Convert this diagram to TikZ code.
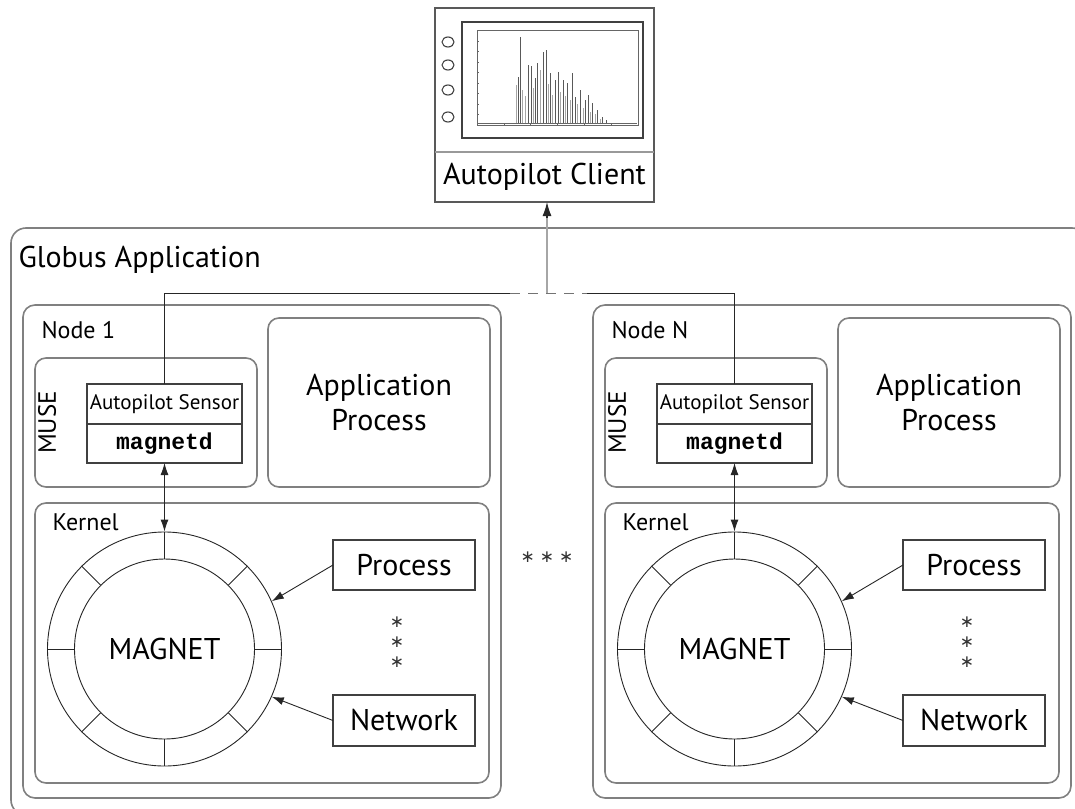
\documentclass[tikz,border=0pt]{standalone}
\usepackage{fontspec}
\setmainfont{PT Sans}
\setmonofont{Liberation Mono}
\newfontfamily\starfont{DejaVu Sans}
\usetikzlibrary{positioning,arrows.meta,calc}

\begin{document}
\begin{tikzpicture}[
    x=1pt, y=-1pt,
    >={Latex[length=12pt,width=8pt]},
    frame/.style={draw=black!50, line width=1.6pt, rounded corners=12pt,
                  inner sep=0pt, outer sep=0pt},
    plainbox/.style={draw=black!75, line width=1.1pt, inner sep=0pt, outer sep=0pt},
    wire/.style={draw=black!85, line width=0.9pt},
    uplink/.style={draw=black!35, line width=2.6pt},
    biglabel/.style={font=\fontsize{30}{35}\selectfont},
    midlabel/.style={font=\fontsize{22}{26}\selectfont},
    smalllabel/.style={font=\fontsize{21}{24}\selectfont},
    codelabel/.style={font=\fontsize{23}{25}\selectfont\ttfamily\bfseries},
    starlabel/.style={font=\fontsize{17}{17}\selectfont\starfont, inner sep=0pt, text=black!80},
]
    \useasboundingbox (0,0) rectangle (1075,808);
    \clip (0,0) rectangle (1075,808);

    % Outer application frame
    \node[frame, rounded corners=15pt, minimum width=1076pt, minimum height=587pt]
        (globus) at (549,521.5) {};
    \node[biglabel, anchor=west] (globus-title) at (15,260) {Globus Application};

    % Client monitor
    \node[plainbox, draw=black!65, line width=1.4pt, minimum width=219pt, minimum height=144pt]
        (screen) at (544.5,80) {};
    \node[plainbox, draw=black!65, line width=1.4pt, minimum width=219pt, minimum height=50pt,
          biglabel] (client) at (544.5,177) {Autopilot Client};
    \draw[black!40, line width=2pt] (screen.south west) -- (screen.south east);
    \draw[black!75, line width=1.5pt] (462,22) rectangle (643,138);
    \draw[black!60, line width=0.5pt] (477,30) rectangle (638,125);
    \foreach \t in {0,1,...,6}
        \draw[black!60, line width=0.4pt] ($(477,125)+(\t*26.8,0)$) -- ++(0,-2);
    \foreach \t in {0,1,...,9}
        \draw[black!60, line width=0.4pt] ($(477,125)+(0,-\t*10.5)$) -- ++(2,0);
    \foreach \px/\py in {518/77, 520/37, 528/65, 531/66, 535/78, 537/63, 543/52, 546/50,
                         550/73, 555/80, 558/72, 563/80, 567/83, 572/73, 575/97, 580/90,
                         585/100, 588/95, 592/103, 597/110, 602/117, 606/120}
        \draw[black!65, line width=1pt] (\px,123) -- (\px,\py);
    \foreach \px/\py in {516/85, 522/90, 525/96, 533/88, 540/70, 548/84, 552/95, 560/92,
                         565/96, 570/100, 577/104, 583/108, 590/112, 595/114, 600/119}
        \draw[black!35, line width=0.9pt] (\px,123) -- (\px,\py);
    \draw[black!60, line width=0.6pt] (478,123) -- (637,123);
    \foreach \by in {42,65,90,117}
        \draw[black!75, line width=1.1pt] (448,\by) ellipse (6pt and 5pt);

    % Two hosts
    \foreach \off/\num/\id in {0/1/a, 570/N/b} {
    \begin{scope}[xshift=\off pt]
        \node[frame, minimum width=478pt, minimum height=493pt] (host-\id) at (262,551.5) {};
        \node[midlabel, font=\fontsize{24}{26}\selectfont, anchor=west] (host-title-\id)
            at (38,330) {Node \num};
        \node[frame, rounded corners=11pt, minimum width=222pt, minimum height=169pt,
              biglabel, align=center] (app-\id) at (379,402.5) {Application\\Process};
        \node[frame, rounded corners=11pt, minimum width=222pt, minimum height=129pt]
            (muse-\id) at (146,422.5) {};
        \node[smalllabel, font=\fontsize{25}{28}\selectfont, rotate=90] (muse-title-\id)
            at (47,422.5) {MUSE};
        \node[plainbox, minimum width=155pt, minimum height=40pt, smalllabel]
            (sensor-\id) at (164.5,404) {Autopilot Sensor};
        \node[plainbox, minimum width=155pt, minimum height=39pt, codelabel,
              below=0pt of sensor-\id] (magnetd-\id) {magnetd};
        \node[frame, rounded corners=11pt, minimum width=454pt, minimum height=280pt]
            (kernel-\id) at (262,643) {};
        \node[midlabel, font=\fontsize{24}{26}\selectfont, anchor=west] (kernel-title-\id)
            at (49,522) {Kernel};
        % MAGNET ring
        \node[circle, draw=black!85, line width=0.9pt, minimum size=234pt, inner sep=0pt]
            (ring-\id) at (164.5,649) {};
        \node[circle, draw=black!85, line width=0.9pt, minimum size=180pt, inner sep=0pt,
              biglabel] (magnet-\id) at (164.5,649) {MAGNET};
        \foreach \a in {0,45,...,315}
            \draw[wire] (magnet-\id.\a) -- (ring-\id.\a);
        \node[plainbox, minimum width=142pt, minimum height=50pt, biglabel]
            (process-\id) at (404,565) {Process};
        \node[plainbox, minimum width=142pt, minimum height=51pt, biglabel]
            (network-\id) at (404,720.5) {Network};
        \foreach \sy [count=\k] in {622,642,662}
            \node[starlabel] (vdots-\id-\k) at (397,\sy) {∗};
        % connectors
        \draw[wire, <->] (magnetd-\id.south) -- (ring-\id.north);
        \draw[wire, ->] (process-\id.west) -- (ring-\id.24);
        \draw[wire, ->] (network-\id.west) -- (ring-\id.-24);
    \end{scope}
    }

    \node[starlabel] (hdots) at (547,557) {∗\hspace{5pt}∗\hspace{5pt}∗};

    % Sensor bus to the client
    \coordinate (bus-l) at (510,293);
    \coordinate (bus-r) at (587,293);
    \coordinate (tap) at (547,293);
    \draw[wire] (sensor-a.north) |- (bus-l);
    \draw[wire, black!55, dash pattern=on 10pt off 8pt] (bus-l) -- (bus-r);
    \draw[wire] (bus-r) -| (sensor-b.north);
    \draw[uplink] (tap) -- ($(tap |- client.south)+(0,12)$);
    \draw[wire, -{Latex[length=14pt,width=9pt]}, line width=1.2pt]
        ($(tap |- client.south)+(0,16)$) -- (tap |- client.south);
\end{tikzpicture}
\end{document}
